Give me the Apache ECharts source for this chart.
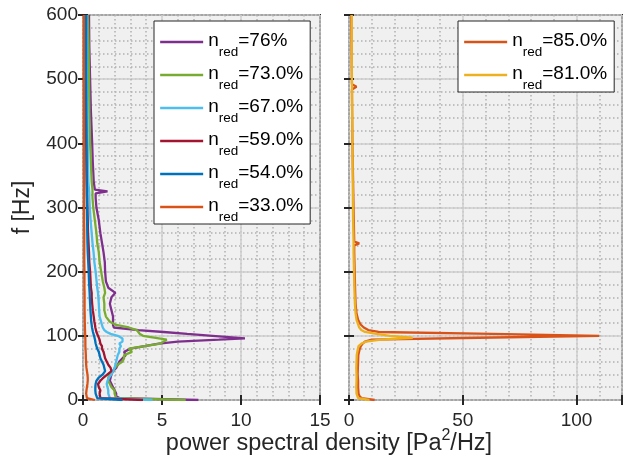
<!DOCTYPE html>
<html><head><meta charset="utf-8">
<script src="https://cdn.jsdelivr.net/npm/echarts@6/dist/echarts.min.js"></script>
<style>html,body{margin:0;padding:0;background:#fff}#c{width:631px;height:463px}</style>
</head><body><div id="c"></div>
<script>
// ---- data ----
const freqLeft = [0,3,6,10,15,20,25,30,35,40, 45,50,55,60,65,70,75,80,84,88, 91,94,96,100,103,106,109,113,117,122, 130,140,150,160,167,175,185,200,215,230, 245,260,280,300,315,322,325,328,340,370, 400,450,500,550,600];
const psd76 = [7.3,2.3,2.1,2.1,2.0,1.9,1.8,1.7,1.75,1.8, 1.9,2.1,2.2,2.3,2.5,2.7,2.6,3.0,3.9,4.8, 6.0,8.6,10.25,8.2,6.6,5.1,3.5,1.95,1.9,1.9, 1.9,1.8,1.7,1.8,2.05,1.6,1.45,1.4,1.38,1.3, 1.2,1.1,1.0,0.85,0.8,0.8,1.55,0.75,0.68,0.62, 0.58,0.5,0.45,0.4,0.38];
const psd73 = [6.5,2.1,2.0,2.0,2.0,1.8,1.7,1.6,1.6,1.7, 1.9,2.0,2.2,2.5,2.6,2.6,3.1,2.9,3.9,4.9, 5.1,5.3,5.4,3.8,3.6,3.5,3.4,2.9,2.1,1.7, 1.45,1.35,1.35,1.3,1.4,1.35,1.25,1.15,1.05,1.0, 0.9,0.85,0.75,0.65,0.6,0.6,0.6,0.6,0.55,0.5, 0.45,0.4,0.38,0.35,0.3];
const psd67 = [4.4,1.7,1.6,1.6,1.6,1.55,1.5,1.55,1.65,1.8, 1.9,2.0,2.05,2.1,2.15,2.2,2.3,2.3,2.4,2.3, 2.5,2.55,2.5,2.2,1.75,1.5,1.35,1.25,1.2,1.15, 1.05,1.02,1.0,0.97,0.95,0.9,0.86,0.8,0.72,0.67, 0.6,0.55,0.48,0.43,0.4,0.4,0.4,0.38,0.34,0.32, 0.3,0.28,0.25,0.25,0.22];
const psd59 = [3.8,1.1,1.0,1.05,1.1,1.0,0.95,1.1,1.3,1.55, 1.8,1.75,1.6,1.5,1.4,1.35,1.3,1.2,1.2,1.1, 1.1,1.05,1.0,0.95,0.9,0.85,0.8,0.78,0.76,0.72, 0.68,0.62,0.58,0.55,0.55,0.5,0.48,0.45,0.4,0.38, 0.35,0.32,0.3,0.28,0.26,0.25,0.25,0.25,0.24,0.22, 0.2,0.18,0.17,0.15,0.15];
const psd54 = [2.5,0.9,0.85,0.8,0.78,0.78,0.8,0.85,1.0,1.25, 1.4,1.35,1.3,1.2,1.1,1.05,1.0,0.9,0.85,0.8, 0.78,0.76,0.72,0.7,0.67,0.63,0.6,0.57,0.55,0.52, 0.5,0.47,0.45,0.43,0.42,0.4,0.38,0.36,0.33,0.3, 0.28,0.27,0.26,0.25,0.24,0.24,0.24,0.24,0.23,0.22, 0.22,0.21,0.2,0.2,0.2];
const psd33 = [0.75,0.25,0.2,0.2,0.22,0.25,0.28,0.3,0.3,0.28, 0.25,0.22,0.2,0.2,0.18,0.18,0.17,0.16,0.15,0.15, 0.15,0.15,0.14,0.14,0.13,0.13,0.12,0.12,0.12,0.11, 0.11,0.1,0.1,0.1,0.1,0.09,0.09,0.09,0.08,0.08, 0.08,0.08,0.07,0.07,0.07,0.07,0.07,0.07,0.07,0.06, 0.06,0.06,0.05,0.05,0.05];

const freqRight = [0,3,6,10,20,30,40,50,60,70, 78,84,88,91,94,97,100,103,106,109, 113,118,125,135,150,170,200,230,241,244, 247,280,320,360,400,440,484,488,492,520, 560,600];
const psd85 = [11.3,5.5,4.6,4.2,4.0,4.0,3.8,3.9,4.0,4.1, 4.6,5.2,6.0,7.0,10,57,110,63,13,8.5, 6.5,5.0,4.0,3.3,2.9,2.7,2.5,2.3,2.3,4.5, 2.3,2.1,1.9,1.7,1.5,1.4,1.3,3.3,1.3,1.2, 1.1,1.0];
const psd81 = [9.0,4.0,3.4,3.3,3.2,3.3,3.3,3.2,3.3,3.4, 3.8,4.2,5.5,7.5,14,28,18,12,7,5.4, 4.5,4.0,3.3,2.9,2.6,2.4,2.2,2.0,2.0,2.0, 2.0,1.8,1.7,1.6,1.5,1.4,1.3,1.3,1.3,1.25, 1.2,1.2];

const leftNames = ['76%','73.0%','67.0%','59.0%','54.0%','33.0%'];
const leftValues = [psd76, psd73, psd67, psd59, psd54, psd33];
const leftColors = ['#7E2F8E','#77AC30','#4DBEEE','#A2142F','#0072BD','#D95319'];
const rightNames = ['85.0%','81.0%'];
const rightValues = [psd85, psd81];
const rightColors = ['#D95319','#EDB120'];

const leftXTicks = [0,5,10,15];
const rightXTicks = [0,50,100];
const rightXMax = 120;
const yTicks = [0,100,200,300,400,500,600];

// ---- styling ----
const FONT = 'Liberation Sans';
const INK = '#262626';
const tickStyle = {show:true, inside:true, length:5, lineStyle:{color:INK, width:2}};
const majorLine = {show:true, lineStyle:{color:'#cfcfcf', width:1.5}};
const minorLine = {show:true, lineStyle:{color:'#b0b0b0', width:1.5, type:[1.5,2.5]}};

function minorAxis(grid, min, max, step, pos){
  return {gridIndex:grid, type:'value', min, max, interval:step, position:pos,
    axisLine:{show:false}, axisTick:{show:false}, axisLabel:{show:false}, splitLine:minorLine};
}
function majorAxis(grid, min, max, step, pos, labels, margin, fmt){
  return {gridIndex:grid, type:'value', min, max, interval:step, position:pos,
    axisLine:{show:false}, axisTick:tickStyle, splitLine:majorLine,
    axisLabel:{show:labels, fontSize:19, fontFamily:FONT, color:INK, margin, formatter:fmt}};
}
function edgeAxis(grid, min, max, step, pos){
  return {gridIndex:grid, type:'value', min, max, interval:step, position:pos,
    axisLine:{show:false}, axisTick:tickStyle, splitLine:{show:false}, axisLabel:{show:false}};
}

const lx = [leftXTicks[0], leftXTicks[leftXTicks.length-1], leftXTicks[1]-leftXTicks[0]];
const ry = [yTicks[0], yTicks[yTicks.length-1], yTicks[1]-yTicks[0]];
const rxStep = rightXTicks[1]-rightXTicks[0];

const xAxis = [
  minorAxis(0, lx[0], lx[1], lx[2]/5, 'bottom'),
  majorAxis(0, lx[0], lx[1], lx[2], 'bottom', true, 11),
  edgeAxis(0, lx[0], lx[1], lx[2], 'top'),
  minorAxis(1, 0, rightXMax, rxStep/5, 'bottom'),
  majorAxis(1, 0, rightXMax, rxStep, 'bottom', true, 11, v => (rightXTicks.indexOf(v) >= 0 ? String(v) : '')),
  edgeAxis(1, 0, rightXMax, rxStep, 'top')
];
const yAxis = [
  minorAxis(0, ry[0], ry[1], ry[2]/5, 'left'),
  Object.assign(majorAxis(0, ry[0], ry[1], ry[2], 'left', true, 5),
    {name:'f [Hz]', nameLocation:'middle', nameGap:49, nameTextStyle:{fontSize:23, fontFamily:FONT, color:INK}}),
  edgeAxis(0, ry[0], ry[1], ry[2], 'right'),
  minorAxis(1, ry[0], ry[1], ry[2]/5, 'left'),
  majorAxis(1, ry[0], ry[1], ry[2], 'left', false, 5),
  edgeAxis(1, ry[0], ry[1], ry[2], 'right')
];

function makeSeries(name, vals, freqs, color, xi, yi){
  return {type:'line', name, xAxisIndex:xi, yAxisIndex:yi, symbol:'none', animation:false,
    data: freqs.map((f,i)=>[vals[i], f]), lineStyle:{color, width:2.3}, itemStyle:{color}};
}
const series = [];
leftNames.forEach((n,i)=>series.push(makeSeries(n, leftValues[i], freqLeft, leftColors[i], 1, 1)));
rightNames.forEach((n,i)=>series.push(makeSeries(n, rightValues[i], freqRight, rightColors[i], 4, 4)));

const legendText = {
  fontSize:19, fontFamily:FONT, color:'#000',
  rich:{
    m:{fontSize:19, fontFamily:FONT, color:'#000', lineHeight:22, verticalAlign:'top'},
    s:{fontSize:13.5, fontFamily:FONT, color:'#000', lineHeight:1, padding:[14,0,0,0], verticalAlign:'top'}
  }
};
function legendBox(names, left, pad){
  return {data:names, orient:'vertical', left, top:21, itemWidth:43, itemHeight:30, itemGap:4,
    padding:pad, backgroundColor:'#fff', borderColor:INK, borderWidth:1, borderRadius:0,
    selectedMode:false, itemStyle:{opacity:0}, lineStyle:{width:2.3},
    textStyle:legendText, formatter: n => '{m|n}{s|red}{m|=' + n + '}'};
}

const chart = echarts.init(document.getElementById('c'), null, {renderer:'canvas'});
chart.setOption({
  animation:false,
  backgroundColor:'#fff',
  grid:[
    {left:83, top:15, width:237, height:385, show:true, backgroundColor:'#f0f0f0', borderColor:INK, borderWidth:2},
    {left:349, top:15, width:273, height:385, show:true, backgroundColor:'#f0f0f0', borderColor:INK, borderWidth:2}
  ],
  xAxis, yAxis, series,
  legend:[legendBox(leftNames, 154, [9,7,0,5]), legendBox(rightNames, 458, [9,7,0,5])],
  graphic:[{
    type:'text', x:329, y:442, z:10,
    style:{text:'{m|power spectral density [Pa}{p|2}{m|/Hz]}', align:'center', verticalAlign:'middle',
      rich:{
        m:{fontSize:23.5, fontFamily:FONT, fill:INK, lineHeight:28, verticalAlign:'bottom'},
        p:{fontSize:16, fontFamily:FONT, fill:INK, lineHeight:17, padding:[0,0,14,0], verticalAlign:'top'}
      }}
  }]
});
</script>
</body></html>
